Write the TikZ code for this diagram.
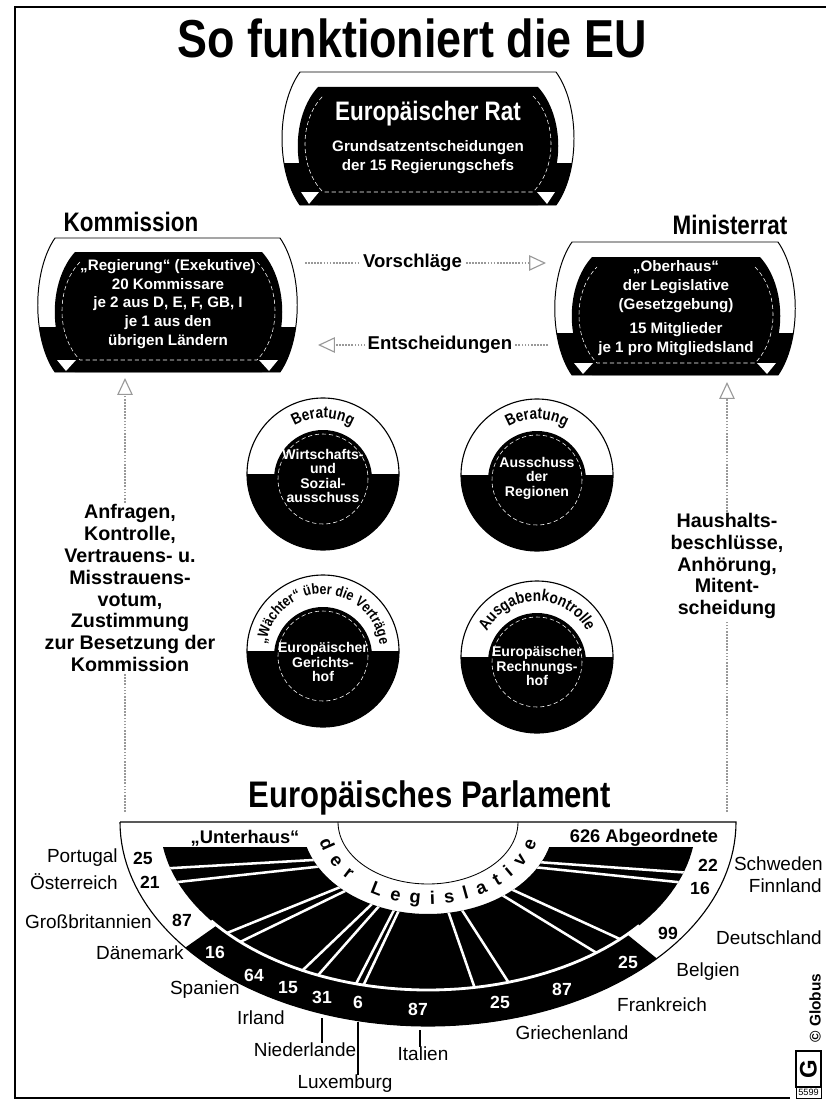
\documentclass[tikz,border=0pt]{standalone}
\usepackage{fontspec}
\setmainfont{Liberation Sans}
\newfontfamily\headfont[FakeStretch=0.84]{Liberation Sans}
\usetikzlibrary{arrows.meta,calc,decorations.text}

\newcommand{\ringfont}{\headfont\bfseries\fontsize{11.5}{12}\selectfont}
\newcommand{\legfont}{\bfseries\fontsize{13}{13}\selectfont}

\tikzset{
  barrel/.style n args={5}{insert path={(#1,#3) -- (#2,#3)
    .. controls ({#2+#5},{#3+0.25*(#4-#3)}) and ({#2+#5},{#4-0.25*(#4-#3)}) .. (#2,#4)
    -- (#1,#4)
    .. controls ({#1-#5},{#4-0.25*(#4-#3)}) and ({#1-#5},{#3+0.25*(#4-#3)}) .. cycle}},
  barrelopen/.style n args={5}{insert path={(#2,#3)
    .. controls ({#2+#5},{#3+0.25*(#4-#3)}) and ({#2+#5},{#4-0.25*(#4-#3)}) .. (#2,#4)
    -- (#1,#4)
    .. controls ({#1-#5},{#4-0.25*(#4-#3)}) and ({#1-#5},{#3+0.25*(#4-#3)}) .. (#1,#3)}},
  seatarea/.style={insert path={plot[domain=8.56:171.44, samples=80] ({428+268*cos(\x)},{822+168*sin(\x)})
    -- plot[domain=164.23:15.77, samples=60] ({428+126*cos(\x)},{822+92*sin(\x)}) -- cycle}},
  title/.style={anchor=base, font=\headfont\bfseries\fontsize{38}{40}\selectfont},
  head/.style={anchor=base, font=\headfont\bfseries\fontsize{19}{21}\selectfont},
  parlhead/.style={anchor=base, font=\headfont\bfseries\fontsize{26.3}{28}\selectfont},
  boxhead/.style={text=white, font=\headfont\bfseries\fontsize{19}{21}\selectfont},
  boxtext/.style={text=white, align=center, inner sep=0pt, font=\bfseries\fontsize{10.8}{13.3}\selectfont},
  boxdash/.style={white, densely dashed, line width=0.4pt},
  circtext/.style={text=white, align=center, inner sep=0pt, font=\bfseries\fontsize{10}{10.3}\selectfont},
  ringtext/.style={decorate, decoration={text along path, text align=center, text={|\ringfont|#1}}},
  sidetext/.style={align=center, fill=white, inner sep=1pt, font=\bfseries\fontsize{14}{15.6}\selectfont},
  flowlabel/.style={fill=white, inner sep=2pt, font=\bfseries\fontsize{13.2}{14}\selectfont},
  greyarrow/.style={draw=black!40, densely dotted, line width=1.2pt,
    -{Triangle[open, length=12pt, width=11pt, line width=0.8pt]}},
  country/.style={inner sep=0pt, font=\fontsize{13.5}{14}\selectfont},
  bandhead/.style={inner sep=0pt, font=\bfseries\fontsize{13}{14}\selectfont},
  seatnum/.style={inner sep=0pt, font=\bfseries\fontsize{12.5}{13}\selectfont},
  bandnum/.style={seatnum, text=white},
  seatline/.style={white, line width=1.8pt},
  leader/.style={line width=0.8pt}
}

\begin{document}
\begin{tikzpicture}[x=0.025cm, y=-0.025cm]
  \useasboundingbox (0,0) rectangle (826,1103);
  \draw[line width=1.2pt] (826,7) -- (15,7) -- (15,1098) -- (790,1098);

  \node[title] (title) at (412,58) {So funktioniert die EU};

  % Europaeischer Rat
  \fill[white, barrel={300}{556}{72}{205}{24}];
  \begin{scope}
    \clip[barrel={300}{556}{72}{205}{24}];
    \fill (270,163) rectangle (590,210);
  \end{scope}
  \draw[line width=0.7pt, barrel={300}{556}{72}{205}{24}];
  \fill[barrel={318}{538}{87}{205}{27}];
  \draw[boxdash, barrelopen={323}{533}{96}{192}{24}];
  \fill[white] (301,192) -- (319,192) -- (309,204) -- cycle;
  \fill[white] (537,192) -- (555,192) -- (547,204) -- cycle;
  \node[boxhead] (rat) at (428,114) {Europäischer Rat};
  \node[boxtext] (ratsub) at (428,157) {Grundsatzentscheidungen\\der 15 Regierungschefs};

  % Kommission
  \node[head] (komlabel) at (131,231) {Kommission};
  \fill[white, barrel={55}{280}{238}{372}{23}];
  \begin{scope}
    \clip[barrel={55}{280}{238}{372}{23}];
    \fill (30,327) rectangle (310,380);
  \end{scope}
  \draw[line width=0.7pt, barrel={55}{280}{238}{372}{23}];
  \fill[barrel={75}{262}{252}{372}{27}];
  \draw[boxdash, barrelopen={80}{257}{262}{360}{24}];
  \fill[white] (57,360) -- (76,360) -- (66,371) -- cycle;
  \fill[white] (259,360) -- (278,360) -- (269,371) -- cycle;
  \node[boxtext] (kom) at (168,304) {„Regierung“ (Exekutive)\\20 Kommissare\\je 2 aus D, E, F, GB, I\\je 1 aus den\\übrigen Ländern};

  % Ministerrat
  \node[head] (minlabel) at (730,234) {Ministerrat};
  \fill[white, barrel={572}{778}{242}{375}{23}];
  \begin{scope}
    \clip[barrel={572}{778}{242}{375}{23}];
    \fill (545,333) rectangle (805,380);
  \end{scope}
  \draw[line width=0.7pt, barrel={572}{778}{242}{375}{23}];
  \fill[barrel={592}{760}{257}{375}{27}];
  \draw[boxdash, barrelopen={597}{755}{267}{363}{24}];
  \fill[white] (574,363) -- (593,363) -- (583,374) -- cycle;
  \fill[white] (757,363) -- (776,363) -- (767,374) -- cycle;
  \node[boxtext] (min) at (676,308) {„Oberhaus“\\der Legislative\\(Gesetzgebung)\\[4pt]15 Mitglieder\\je 1 pro Mitgliedsland};

  % Vorschlaege / Entscheidungen
  \coordinate (kom-e) at (305,263);
  \coordinate (min-w) at (546,263);
  \draw[greyarrow] (kom-e) -- node[flowlabel, pos=0.446] (vorschlaege) {Vorschläge} (min-w);
  \coordinate (min-w2) at (548,345);
  \coordinate (kom-e2) at (318,345);
  \draw[greyarrow] (min-w2) -- node[flowlabel, pos=0.47] (entsch) {Entscheidungen} (kom-e2);

  % Ausschuesse und Hoefe
  \foreach \cx/\cy in {323/474, 537/475, 323/651, 537/657} {
    \begin{scope}
      \clip (\cx,\cy) circle[radius=76];
      \fill (\cx-80,\cy) rectangle (\cx+80,\cy+80);
    \end{scope}
    \draw[line width=0.8pt] (\cx,\cy) circle[radius=76];
    \fill (\cx,\cy+5) circle[radius=49];
    \draw[boxdash] (\cx,\cy+5) circle[radius=45];
  }
  \path[ringtext={Beratung}] plot[domain=215:325, samples=40] ({323+56*cos(\x)},{474+56*sin(\x)});
  \path[ringtext={Beratung}] plot[domain=215:325, samples=40] ({537+56*cos(\x)},{475+56*sin(\x)});
  \path[decorate, decoration={text along path, text align=center,
      text={|\headfont\bfseries\fontsize{10.5}{11}\selectfont|„Wächter“ über die Verträge}}]
    plot[domain=176:364, samples=60] ({323+57*cos(\x)},{651+57*sin(\x)});
  \path[ringtext={Ausgabenkontrolle}] plot[domain=196:344, samples=50] ({537+56*cos(\x)},{657+56*sin(\x)});
  \node[circtext] (wsa) at (323,476) {Wirtschafts-\\und\\Sozial-\\ausschuss};
  \node[circtext] (adr) at (537,478) {Ausschuss\\der\\Regionen};
  \node[circtext] (egh) at (323,662) {Europäischer\\Gerichts-\\hof};
  \node[circtext] (erh) at (537,666) {Europäischer\\Rechnungs-\\hof};

  % Parlament
  \node[parlhead] (parlament) at (430,807) {Europäisches Parlament};
  \draw[line width=0.8pt] (120,822) -- (736,822) -- plot[domain=0:180, samples=90] ({428+308*cos(\x)},{822+204*sin(\x)});
  \fill plot[domain=42:142, samples=50] ({428+308*cos(\x)},{822+204*sin(\x)})
    -- plot[domain=142:42, samples=50] ({428+268*cos(\x)},{822+168*sin(\x)}) -- cycle;
  \fill[seatarea];
  \begin{scope}
    \clip[seatarea];
    \foreach \ax/\ay/\bx/\by in {313/860/173/868, 315/867/178/882, 338/888/227/933, 343/892/240/942,
        373/903/305/968, 380/905/320/973, 395/908/358/980, 400/908/365/982, 447/908/473/983,
        460/907/507/980, 502/895/600/955, 513/890/622/940, 533/867/677/882, 537/862/678/872}
      \draw[seatline] ($(\ax,\ay)!-0.2!(\bx,\by)$) -- ($(\bx,\by)!-0.2!(\ax,\ay)$);
  \end{scope}
  \draw[white, line width=2pt] plot[domain=38:144, samples=50] ({428+268*cos(\x)},{822+168*sin(\x)});
  \draw[line width=0.6pt] plot[domain=0:180, samples=60] ({428+90*cos(\x)},{822+62*sin(\x)});
  \path[decorate, decoration={text along path, text align={fit to path}, text={|\legfont|der Legislative}}]
    plot[domain=14:166, samples=60] ({428-112*cos(\x)},{822+82*sin(\x)});
  \node[bandhead] (unterhaus) at (245,838) {„Unterhaus“};
  \node[bandhead] (abgeordnete) at (644,838) {626 Abgeordnete};

  \node[seatnum] (n-pt) at (143,858) {25};
  \node[seatnum] (n-at) at (150,882) {21};
  \node[seatnum] (n-gb) at (182,920) {87};
  \node[bandnum] (n-dk) at (215,952) {16};
  \node[bandnum] (n-es) at (254,975) {64};
  \node[bandnum] (n-ie) at (288,988) {15};
  \node[bandnum] (n-nl) at (322,997) {31};
  \node[bandnum] (n-lu) at (358,1002) {6};
  \node[bandnum] (n-it) at (418,1009) {87};
  \node[bandnum] (n-gr) at (500,1002) {25};
  \node[bandnum] (n-fr) at (562,989) {87};
  \node[bandnum] (n-be) at (628,962) {25};
  \node[seatnum] (n-de) at (668,933) {99};
  \node[seatnum] (n-fi) at (700,888) {16};
  \node[seatnum] (n-se) at (708,865) {22};

  \node[country, anchor=east] (pt) at (118,858) {Portugal};
  \node[country, anchor=east] (at) at (118,882) {Österreich};
  \node[country, anchor=east] (gb) at (152,922) {Großbritannien};
  \node[country, anchor=east] (dk) at (184,953) {Dänemark};
  \node[country, anchor=east] (es) at (240,990) {Spanien};
  \node[country, anchor=east] (ie) at (285,1018) {Irland};
  \node[country] (nl) at (305,1050) {Niederlande};
  \node[country] (lu) at (345,1084) {Luxemburg};
  \node[country] (it) at (423,1054) {Italien};
  \node[country] (gr) at (572,1033) {Griechenland};
  \node[country] (fr) at (662,1005) {Frankreich};
  \node[country] (be) at (708,972) {Belgien};
  \node[country, anchor=east] (de) at (822,938) {Deutschland};
  \node[country, anchor=east] (fi) at (822,886) {Finnland};
  \node[country, anchor=east] (se) at (823,864) {Schweden};

  \coordinate (nl-top) at (322,1018);
  \coordinate (lu-top) at (358,1022);
  \coordinate (it-top) at (420,1030);
  \draw[leader] (nl-top) -- (nl-top |- nl.north);
  \draw[leader] (lu-top) -- (lu-top |- lu.north);
  \draw[leader] (it-top) -- (it-top |- it.north);

  % Kontrolle und Mitentscheidung
  \coordinate (parl-l) at (125,812);
  \coordinate (kom-s) at (125,378);
  \draw[greyarrow] (parl-l) -- (kom-s);
  \coordinate (parl-r) at (727,812);
  \coordinate (min-s) at (727,382);
  \draw[greyarrow] (parl-r) -- (min-s);
  \node[sidetext] (anfragen) at (130,588) {Anfragen,\\Kontrolle,\\Vertrauens- u.\\Misstrauens-\\votum,\\Zustimmung\\zur Besetzung der\\Kommission};
  \node[sidetext] (haushalt) at (727,566) {Haushalts-\\beschlüsse,\\Anhörung,\\Mitent-\\scheidung};

  % Globus
  \node[rotate=90, inner sep=0pt, font=\bfseries\fontsize{11}{11}\selectfont] (globus) at (815,1008) {© Globus};
  \draw[line width=0.8pt] (796,1051) rectangle (821,1087);
  \node[rotate=90, inner sep=0pt, font=\bfseries\fontsize{17}{17}\selectfont] (logo) at (808.5,1069) {G};
  \draw[line width=0.6pt] (796,1087) rectangle (821,1098);
  \node[inner sep=0pt, font=\fontsize{6.5}{7}\selectfont] (nr) at (808.5,1092.5) {5599};
\end{tikzpicture}
\end{document}
